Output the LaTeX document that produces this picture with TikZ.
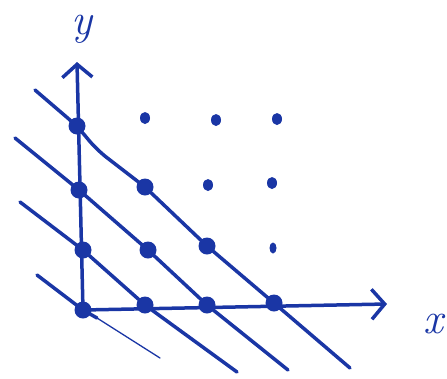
\documentclass[tikz,border=0pt]{standalone}
\usetikzlibrary{arrows.meta,shapes.geometric}
\definecolor{ink}{RGB}{26,54,165}
\begin{document}
\begin{tikzpicture}[x=1pt,y=-1pt,
  ink line/.style={draw=ink,line width=3.5pt,line cap=round,line join=round},
  thin ink/.style={draw=ink,line width=1.3pt,line cap=round},
  axis/.style={ink line,-{Straight Barb[length=13pt,width=30pt,line width=3.5pt]}},
  bigdot/.style={circle,fill=ink,inner sep=0pt,minimum size=17pt},
  smalldot/.style={ellipse,fill=ink,inner sep=0pt,minimum width=10pt,minimum height=12pt},
  lbl/.style={text=ink,inner sep=0pt,anchor=base,font=\fontsize{44}{44}\selectfont\itshape}]
\useasboundingbox (0,0) rectangle (447,378);
% origin and axis ends
\coordinate (ytip) at (77,62);
\coordinate (xtip) at (387,304);
% big dots
\node[bigdot] (o)   at (83,310) {};
\node[bigdot] (y1)  at (83,250) {};
\node[bigdot] (y2)  at (79,190) {};
\node[bigdot] (y3)  at (77,126) {};
\node[bigdot] (x1)  at (145,305) {};
\node[bigdot] (x2)  at (207,305) {};
\node[bigdot] (x3)  at (274,303) {};
\node[bigdot] (m11) at (148,250) {};
\node[bigdot] (m12) at (145,187) {};
\node[bigdot] (m21) at (207,246) {};
% small dots
\node[smalldot] (s1) at (145,118) {};
\node[smalldot] (s2) at (216,120) {};
\node[smalldot] (s3) at (277,119) {};
\node[smalldot] (s4) at (208,185) {};
\node[smalldot] (s5) at (272,183) {};
\node[smalldot,minimum width=7pt,minimum height=11pt] (s6) at (273,248) {};
% axes
\draw[axis] (o.center) -- (ytip);
\draw[axis] (o.center) -- (xtip);
% diagonal lines
\coordinate (a0) at (37,275);
\coordinate (a1) at (160,358);
\coordinate (b0) at (20,202);
\coordinate (b1) at (237,372);
\coordinate (c0) at (15,138);
\coordinate (c1) at (288,370);
\coordinate (d0) at (35,90);
\coordinate (d1) at (350,368);
\coordinate (a2) at (97,318);
\coordinate (d2) at (97,150);
\draw[ink line] (a0) -- (o.center) -- (a2);
\draw[thin ink] (a2) -- (a1);
\draw[ink line] (b0) -- (y1.center) -- (x1.center) -- (b1);
\draw[ink line] (c0) -- (y2.center) -- (m11.center) -- (x2.center) -- (c1);
\draw[ink line,rounded corners=12pt] (d0) -- (y3.center) -- (d2) -- (m12.center) -- (m21.center) -- (x3.center) -- (d1);
% labels
\node[lbl] (ylab) at (82,34) {y};
\node[lbl] (xlab) at (433,333) {x};
\end{tikzpicture}
\end{document}
